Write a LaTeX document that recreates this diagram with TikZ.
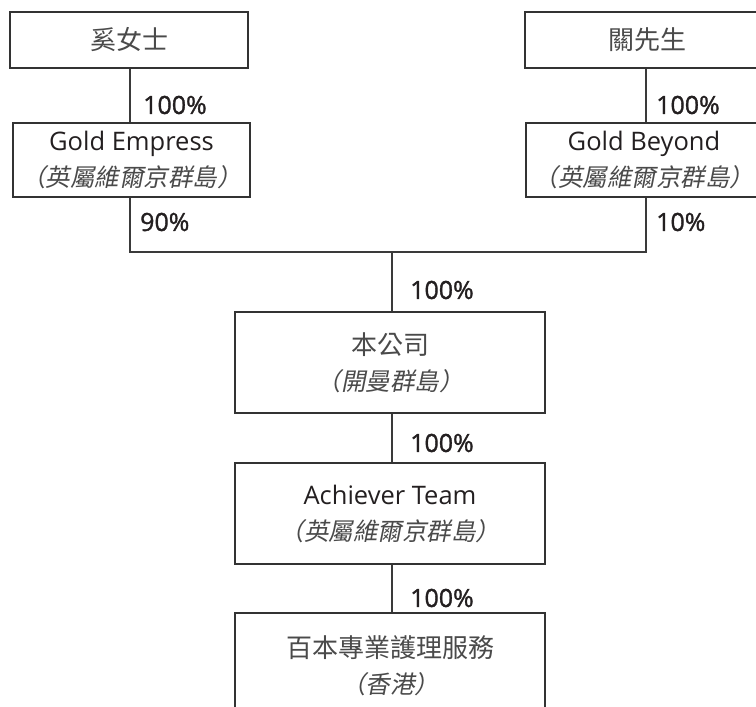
\documentclass[tikz,border=0pt]{standalone}
\usepackage{fontspec}
\setmainfont{Open Sans}
\newfontfamily\cjk{Noto Sans CJK TC}
\newfontfamily\cjkit{Noto Sans CJK TC}[FakeSlant=0.2]
\newfontfamily\pctfont{Open Sans}[FakeBold=1.3]
\definecolor{boxcol}{HTML}{333333}
\definecolor{linecol}{HTML}{3A3A3A}
\definecolor{latcol}{HTML}{231F20}
\definecolor{cncol}{HTML}{4A4A4A}
\newcommand{\cnup}[1]{{\cjk\fontsize{26}{36}\selectfont\color{cncol}#1}}
\newcommand{\cnit}[1]{{\cjkit\fontsize{24.5}{36}\selectfont\color{cncol}#1}}
\tikzset{
  orgbox/.style={draw=boxcol, line width=1.3pt, fill=white, align=center, inner sep=0pt,
    text=latcol, font=\fontsize{25.5}{36}\selectfont},
  conn/.style={draw=linecol, line width=1.1pt},
  pct/.style={anchor=west, inner sep=0pt, text=latcol, font=\pctfont\fontsize{25}{30}\selectfont}
}
\begin{document}
\begin{tikzpicture}[x=1pt,y=-1pt]
\useasboundingbox (0,0) rectangle (756,707);
\clip (0,0) rectangle (756,707);
\coordinate (jl) at (130,252);
\coordinate (jr) at (646,252);
\coordinate (jc) at (392,252);
\node[orgbox, minimum width=238, minimum height=56] (xi) at (129,40) {\cnup{奚女士}};
\node[orgbox, minimum width=237, minimum height=74] (ge) at (131.5,160) {Gold Empress\\\cnit{（英屬維爾京群島）}};
\node[orgbox, minimum width=244, minimum height=56] (guan) at (647,40) {\cnup{關先生}};
\node[orgbox, minimum width=236, minimum height=74] (gb) at (644,160) {Gold Beyond\\\cnit{（英屬維爾京群島）}};
\node[orgbox, minimum width=310, minimum height=101] (co) at (390,362.5) {\cnup{本公司}\\\cnit{（開曼群島）}};
\node[orgbox, minimum width=310, minimum height=101] (at) at (390,513.5) {Achiever Team\\\cnit{（英屬維爾京群島）}};
\node[orgbox, minimum width=310, minimum height=105] (hk) at (390,665.5) {\cnup{百本專業護理服務}\\\cnit{（香港）}};
\draw[conn] (xi.south -| jl) -- (ge.north -| jl);
\draw[conn] (guan.south -| jr) -- (gb.north -| jr);
\draw[conn] (ge.south -| jl) -- (jl) -- (jr) -- (gb.south -| jr);
\draw[conn] (jc) -- (co.north -| jc);
\draw[conn] (co.south -| jc) -- (at.north -| jc);
\draw[conn] (at.south -| jc) -- (hk.north -| jc);
\node[pct] (p1) at (143,105) {100\%};
\node[pct] (p2) at (140,222) {90\%};
\node[pct] (p3) at (656,105) {100\%};
\node[pct] (p4) at (656,222) {10\%};
\node[pct] (p5) at (410,290) {100\%};
\node[pct] (p6) at (410,443) {100\%};
\node[pct] (p7) at (410,598) {100\%};
\end{tikzpicture}
\end{document}
